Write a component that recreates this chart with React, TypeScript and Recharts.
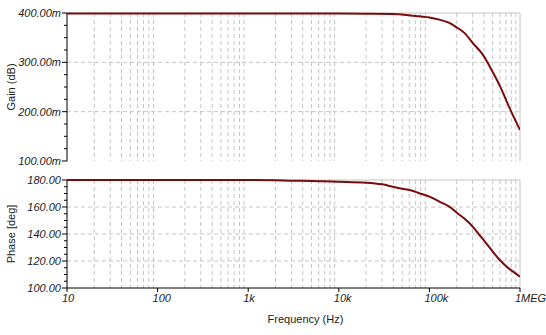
import React from 'react';
import {
    LineChart,
    Line,
    XAxis,
    YAxis,
    CartesianGrid,
    ReferenceLine,
    Label,
} from 'recharts';

// frequency (Hz) / gain (m dB)
const GAIN_FREQ = [10, 100, 1000, 10000, 20000, 39000, 62000, 77500, 100000, 129000, 166000, 200000, 243000, 300000, 387000, 493000, 600000, 708000, 839000, 1000000];
const GAIN_VALUES = [399, 399, 399, 398.8, 398.5, 398, 395, 393.2, 391.1, 386.5, 379.9, 371, 359.7, 339.6, 316, 282.4, 252.2, 222, 191.9, 163];

// frequency (Hz) / phase (deg)
const PHASE_FREQ = [10, 100, 1000, 2000, 3000, 5000, 7000, 10000, 20000, 30000, 46600, 60200, 77500, 100000, 129000, 166000, 204000, 252000, 300000, 356000, 422000, 500000, 594000, 708000, 832000, 1000000];
const PHASE_VALUES = [180, 180, 180, 179.8, 179.5, 179.3, 179, 178.7, 178, 176.8, 173.9, 172.6, 170.2, 167.7, 164, 160.3, 155.4, 150.5, 145.5, 139.4, 133.2, 127, 120.9, 116, 112.3, 108.4];

const X_TICKS = [10, 100, 1000, 10000, 100000, 1000000];
const X_LABELS = ['10', '100', '1k', '10k', '100k', '1MEG'];
const GAIN_TICKS = [100, 200, 300, 400];
const PHASE_TICKS = [100, 120, 140, 160, 180];

const gainData = GAIN_FREQ.map((f, i) => ({ f, v: GAIN_VALUES[i] }));
const phaseData = PHASE_FREQ.map((f, i) => ({ f, v: PHASE_VALUES[i] }));

// minor decade lines 20,30..90,200,...
const MINOR_FREQS: number[] = [];
for (let d = 10; d < 1000000; d *= 10) {
    for (let k = 2; k <= 9; k++) MINOR_FREQS.push(d * k);
}

const minorTicks = (majors: number[], step: number) => {
    const out: number[] = [];
    for (let v = majors[0]; v <= majors[majors.length - 1] + 0.001; v += step) out.push(v);
    return out;
};

const GAIN_ALL_TICKS = minorTicks(GAIN_TICKS, 25);
const PHASE_ALL_TICKS = minorTicks(PHASE_TICKS, 5);

const LINE_COLOR = '#7a0b0b';
const GRID_COLOR = '#c4c4c4';
const FONT = '"Liberation Sans", Arial, sans-serif';

const YTick = (props: any) => {
    const { x, y, payload, majors, suffix } = props;
    const axisX = x + 7;
    const isMajor = majors.includes(payload.value);
    return (
        <g>
            <line x1={axisX - (isMajor ? 5 : 3)} x2={axisX} y1={y} y2={y} stroke="#000" />
            {isMajor && (
                <text x={axisX - 6} y={y} dy={4} textAnchor="end" fontSize={11} fontStyle="italic" fontFamily={FONT} fill="#222">
                    {payload.value.toFixed(2) + suffix}
                </text>
            )}
        </g>
    );
};

const XTick = (props: any) => {
    const { x, y, payload } = props;
    const idx = X_TICKS.indexOf(payload.value);
    return (
        <text x={x - 5} y={y} dy={8} textAnchor="start" fontSize={11} fontStyle="italic" fontFamily={FONT} fill="#222">
            {X_LABELS[idx]}
        </text>
    );
};

const vGrid = ({ xAxis, offset }: any) =>
    MINOR_FREQS.map((f) =>
        xAxis && typeof xAxis.scale === 'function'
            ? xAxis.scale(f)
            : offset.left + (offset.width * (Math.log10(f) - 1)) / 5
    );

const hGrid = (values: number[], domain: number[]) => ({ yAxis, offset }: any) =>
    values.map((v) =>
        yAxis && typeof yAxis.scale === 'function'
            ? yAxis.scale(v)
            : offset.top + (offset.height * (domain[1] - v)) / (domain[1] - domain[0])
    );

const axisTitle = (text: string) => ({ viewBox }: any) => (
    <text
        x={11}
        y={viewBox.y + viewBox.height / 2}
        transform={`rotate(-90, 11, ${viewBox.y + viewBox.height / 2})`}
        textAnchor="middle"
        dominantBaseline="central"
        fontSize={11}
        fontFamily={FONT}
        fill="#222"
    >
        {text}
    </text>
);

export default function App() {
    return (
        <div style={{ position: 'absolute', left: 0, top: 0, width: 546, height: 335, background: '#fff' }}>
            <LineChart width={546} height={170} data={gainData} margin={{ top: 13, right: 26, bottom: 9, left: 0 }}>
                <CartesianGrid
                    stroke={GRID_COLOR}
                    strokeDasharray="4 3"
                    verticalCoordinatesGenerator={vGrid}
                    horizontalCoordinatesGenerator={hGrid([200, 300], [100, 400])}
                />
                <ReferenceLine y={400} stroke={GRID_COLOR} />
                <ReferenceLine x={1000000} stroke={GRID_COLOR} />
                <XAxis
                    dataKey="f"
                    type="number"
                    scale="log"
                    domain={[10, 1000000]}
                    ticks={X_TICKS}
                    allowDataOverflow
                    tick={false}
                    tickLine={false}
                    height={0}
                    axisLine={{ stroke: '#000' }}
                />
                <YAxis
                    type="number"
                    domain={[100, 400]}
                    ticks={GAIN_ALL_TICKS}
                    interval={0}
                    width={67}
                    tickLine={false}
                    tickSize={5}
                    tickMargin={2}
                    axisLine={{ stroke: '#000' }}
                    tick={<YTick majors={GAIN_TICKS} suffix="m" />}
                >
                    <Label content={axisTitle('Gain (dB)')} />
                </YAxis>
                <Line dataKey="v" type="monotone" stroke={LINE_COLOR} strokeWidth={2} dot={false} isAnimationActive={false} />
            </LineChart>
            <LineChart width={546} height={165} data={phaseData} margin={{ top: 10, right: 26, bottom: 0, left: 0 }}>
                <CartesianGrid
                    stroke={GRID_COLOR}
                    strokeDasharray="4 3"
                    verticalCoordinatesGenerator={vGrid}
                    horizontalCoordinatesGenerator={hGrid([120, 140, 160], [100, 180])}
                />
                <ReferenceLine y={180} stroke={GRID_COLOR} />
                <ReferenceLine x={1000000} stroke={GRID_COLOR} />
                <XAxis
                    dataKey="f"
                    type="number"
                    scale="log"
                    domain={[10, 1000000]}
                    ticks={X_TICKS}
                    interval={0}
                    allowDataOverflow
                    height={47}
                    tickSize={4}
                    tickMargin={2}
                    axisLine={{ stroke: '#000' }}
                    tickLine={{ stroke: '#000' }}
                    tick={<XTick />}
                >
                    <Label
                        value="Frequency (Hz)"
                        position="insideBottom"
                        offset={12}
                        dx={12}
                        style={{ fontSize: 11, fontFamily: FONT, fill: '#222' }}
                    />
                </XAxis>
                <YAxis
                    type="number"
                    domain={[100, 180]}
                    ticks={PHASE_ALL_TICKS}
                    interval={0}
                    width={67}
                    tickLine={false}
                    tickSize={5}
                    tickMargin={2}
                    axisLine={{ stroke: '#000' }}
                    tick={<YTick majors={PHASE_TICKS} suffix="" />}
                >
                    <Label content={axisTitle('Phase [deg]')} />
                </YAxis>
                <Line dataKey="v" type="monotone" stroke={LINE_COLOR} strokeWidth={2} dot={false} isAnimationActive={false} />
            </LineChart>
        </div>
    );
}
